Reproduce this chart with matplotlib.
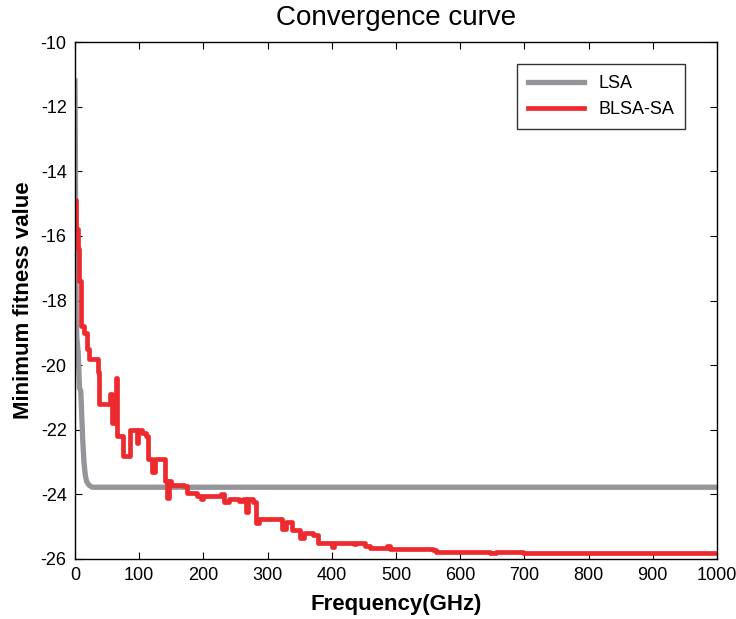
import numpy as np
import matplotlib
matplotlib.use('Agg')
import matplotlib.pyplot as plt

plt.rcParams['font.family'] = ['Liberation Sans', 'DejaVu Sans']
plt.rcParams['axes.unicode_minus'] = False

# LSA convergence (iteration, minimum fitness)
lsa_x = [0, 0.5, 1, 2, 3, 5, 7, 9, 12, 14, 16, 18, 22, 27, 1000]
lsa_y = [-11.2, -13.0, -15.5, -18.6, -19.2, -19.6, -20.7, -20.8, -22.3, -23.0, -23.4, -23.6, -23.72, -23.78, -23.78]

# BLSA-SA convergence
blsa_x = [0, 2, 4, 7, 10, 14, 18, 22, 36, 38, 50, 54, 58, 62, 64, 66, 72, 74, 84, 86,
          94, 96, 98, 104, 110, 114, 120, 124, 138, 140, 144, 146, 150, 170, 174, 190,
          196, 200, 228, 232, 240, 256, 262, 266, 270, 278, 282, 286, 318, 322, 328,
          338, 350, 356, 370, 378, 398, 400, 404, 430, 434, 438, 452, 460, 486, 490,
          520, 526, 558, 562, 640, 646, 656, 690, 698, 730, 1000]
blsa_y = [-14.9, -15.8, -16.4, -17.4, -18.8, -19.0, -19.5, -19.8, -20.2, -21.2, -21.2,
          -20.9, -21.8, -21.2, -20.4, -22.2, -22.2, -22.8, -22.8, -22.0, -22.0, -22.4,
          -22.0, -22.1, -22.2, -22.9, -23.3, -22.9, -22.9, -23.6, -24.1, -23.6, -23.7,
          -23.75, -23.95, -24.05, -24.15, -24.05, -24.0, -24.25, -24.15, -24.2, -24.15,
          -24.55, -24.15, -24.25, -24.9, -24.77, -24.77, -25.08, -24.85, -25.1, -25.35,
          -25.2, -25.25, -25.5, -25.5, -25.62, -25.5, -25.5, -25.55, -25.5, -25.6,
          -25.65, -25.6, -25.7, -25.7, -25.68, -25.72, -25.8, -25.78, -25.82, -25.78,
          -25.8, -25.83, -25.82, -25.83]

x_ticks = [0, 100, 200, 300, 400, 500, 600, 700, 800, 900, 1000]
y_ticks = [-26, -24, -22, -20, -18, -16, -14, -12, -10]

fig = plt.figure(figsize=(7.36, 6.19), dpi=100)
ax = fig.add_axes([0.1019, 0.097, 0.8723, 0.835])

ax.plot(lsa_x, lsa_y, color='#939598', lw=3.8, label='LSA')
ax.plot(blsa_x, blsa_y, color='#ed2a2e', lw=3.4, drawstyle='steps-post', label='BLSA-SA')

ax.set_xlim(0, 1000)
ax.set_ylim(-26, -10)
ax.set_xticks(x_ticks)
ax.set_yticks(y_ticks)
ax.tick_params(direction='in', top=True, right=True, labelsize=13, length=5, pad=6)
for s in ax.spines.values():
    s.set_linewidth(1.0)

ax.set_title('Convergence curve', fontsize=20, pad=12)
ax.set_xlabel('Frequency(GHz)', fontsize=16, fontweight='bold', labelpad=7)
ax.set_ylabel('Minimum fitness value', fontsize=16, fontweight='bold', labelpad=5)

leg = ax.legend(loc='upper right', bbox_to_anchor=(0.950, 0.957), borderaxespad=0,
                fontsize=13, frameon=True, fancybox=False, edgecolor='black',
                handlelength=3.1, borderpad=0.6, labelspacing=0.5)
leg.get_frame().set_linewidth(1.0)

fig.savefig('out.png', dpi=100)
